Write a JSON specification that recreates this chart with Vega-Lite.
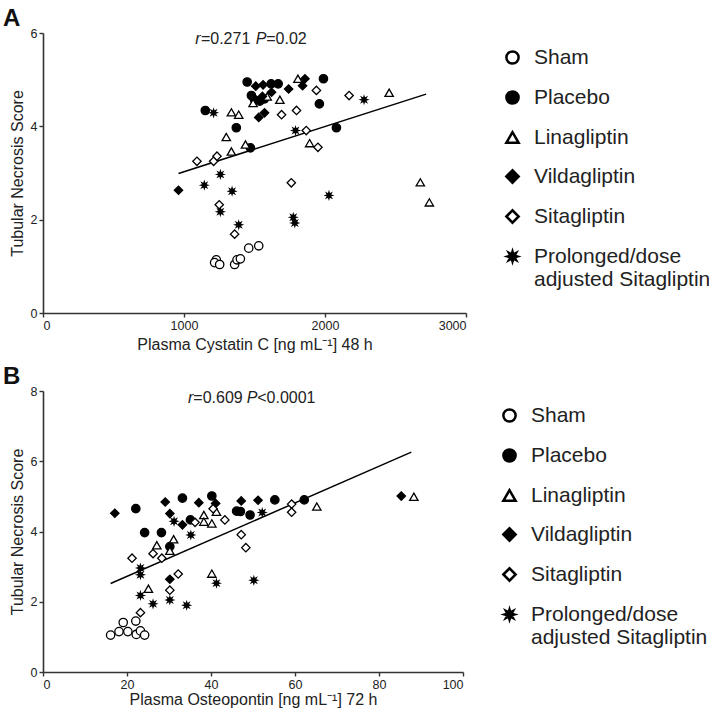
{
  "$schema": "https://vega.github.io/schema/vega-lite/v6.json",
  "padding": {"left": 3, "top": 7, "right": 0, "bottom": 0},
  "background": "white",
  "config": {
    "view": {"stroke": null},
    "font": "Liberation Sans",
    "axis": {"grid": false, "domainColor": "#333", "domainWidth": 1.6, "tickColor": "#333", "tickWidth": 1.4, "tickSize": 4, "labelFont": "Liberation Sans", "labelFontSize": 12.5, "labelColor": "#222", "labelPadding": 2, "titleFont": "Liberation Sans", "titleFontSize": 16, "titleFontWeight": "normal", "titleColor": "#222", "titlePadding": 5, "format": "d"},
    "legend": {"labelFont": "Liberation Sans", "labelFontSize": 21, "labelColor": "#222", "labelLimit": 400, "symbolSize": 150, "symbolStrokeWidth": 2.5, "symbolStrokeColor": "black", "rowPadding": 17, "labelOffset": 11, "offset": 22, "padding": 14, "orient": "right"},
    "title": {"anchor": "start", "frame": "bounds", "fontSize": 24, "fontWeight": "bold", "font": "Liberation Sans", "color": "#111", "dx": -6, "offset": -4}
  },
  "datasets": {
    "a_points": [
      {"group": "Sham", "x": 1229, "y": 1.14}, {"group": "Sham", "x": 1217, "y": 1.08}, {"group": "Sham", "x": 1253, "y": 1.04}, {"group": "Sham", "x": 1359, "y": 1.04}, {"group": "Sham", "x": 1376, "y": 1.14}, {"group": "Sham", "x": 1400, "y": 1.16}, {"group": "Sham", "x": 1459, "y": 1.39}, {"group": "Sham", "x": 1530, "y": 1.44},
      {"group": "Placebo", "x": 1448, "y": 4.95}, {"group": "Placebo", "x": 1618, "y": 4.91}, {"group": "Placebo", "x": 1668, "y": 4.91}, {"group": "Placebo", "x": 1989, "y": 5.02}, {"group": "Placebo", "x": 1151, "y": 4.34}, {"group": "Placebo", "x": 1371, "y": 3.97}, {"group": "Placebo", "x": 1471, "y": 3.54}, {"group": "Placebo", "x": 2081, "y": 3.97}, {"group": "Placebo", "x": 1960, "y": 4.48}, {"group": "Placebo", "x": 1478, "y": 4.66}, {"group": "Placebo", "x": 1500, "y": 4.57}, {"group": "Placebo", "x": 1537, "y": 4.54}, {"group": "Placebo", "x": 1571, "y": 4.59},
      {"group": "Linagliptin", "x": 1808, "y": 5.02}, {"group": "Linagliptin", "x": 1680, "y": 4.57}, {"group": "Linagliptin", "x": 1490, "y": 4.5}, {"group": "Linagliptin", "x": 1336, "y": 4.3}, {"group": "Linagliptin", "x": 1388, "y": 4.25}, {"group": "Linagliptin", "x": 1300, "y": 3.77}, {"group": "Linagliptin", "x": 1336, "y": 3.46}, {"group": "Linagliptin", "x": 1436, "y": 3.61}, {"group": "Linagliptin", "x": 1891, "y": 3.64}, {"group": "Linagliptin", "x": 1590, "y": 4.64}, {"group": "Linagliptin", "x": 2455, "y": 4.72}, {"group": "Linagliptin", "x": 2676, "y": 2.8}, {"group": "Linagliptin", "x": 2740, "y": 2.37},
      {"group": "Vildagliptin", "x": 1509, "y": 4.86}, {"group": "Vildagliptin", "x": 1561, "y": 4.89}, {"group": "Vildagliptin", "x": 1742, "y": 4.8}, {"group": "Vildagliptin", "x": 1841, "y": 4.87}, {"group": "Vildagliptin", "x": 1858, "y": 5.02}, {"group": "Vildagliptin", "x": 1530, "y": 4.19}, {"group": "Vildagliptin", "x": 1571, "y": 4.29}, {"group": "Vildagliptin", "x": 961, "y": 2.63}, {"group": "Vildagliptin", "x": 1621, "y": 4.73}, {"group": "Vildagliptin", "x": 1556, "y": 4.64},
      {"group": "Sitagliptin", "x": 1092, "y": 3.25}, {"group": "Sitagliptin", "x": 1210, "y": 3.25}, {"group": "Sitagliptin", "x": 1234, "y": 3.36}, {"group": "Sitagliptin", "x": 1692, "y": 4.25}, {"group": "Sitagliptin", "x": 1798, "y": 4.34}, {"group": "Sitagliptin", "x": 1867, "y": 3.91}, {"group": "Sitagliptin", "x": 1939, "y": 4.77}, {"group": "Sitagliptin", "x": 1950, "y": 3.55}, {"group": "Sitagliptin", "x": 2171, "y": 4.66}, {"group": "Sitagliptin", "x": 1761, "y": 2.79}, {"group": "Sitagliptin", "x": 1250, "y": 2.32}, {"group": "Sitagliptin", "x": 1359, "y": 1.69},
      {"group": "Prolonged/dose adjusted Sitagliptin", "x": 1210, "y": 4.29}, {"group": "Prolonged/dose adjusted Sitagliptin", "x": 1791, "y": 3.91}, {"group": "Prolonged/dose adjusted Sitagliptin", "x": 1258, "y": 2.97}, {"group": "Prolonged/dose adjusted Sitagliptin", "x": 1144, "y": 2.74}, {"group": "Prolonged/dose adjusted Sitagliptin", "x": 1341, "y": 2.61}, {"group": "Prolonged/dose adjusted Sitagliptin", "x": 1258, "y": 2.17}, {"group": "Prolonged/dose adjusted Sitagliptin", "x": 1388, "y": 1.89}, {"group": "Prolonged/dose adjusted Sitagliptin", "x": 1775, "y": 2.05}, {"group": "Prolonged/dose adjusted Sitagliptin", "x": 1786, "y": 1.93}, {"group": "Prolonged/dose adjusted Sitagliptin", "x": 2028, "y": 2.52}, {"group": "Prolonged/dose adjusted Sitagliptin", "x": 2277, "y": 4.57}
    ],
    "a_line": [{"x": 961, "y": 2.99}, {"x": 2717, "y": 4.69}],
    "a_text": [
      {"text": "r", "x": 1080, "y": 5.87, "italic": true},
      {"text": "=0.271", "x": 1120, "y": 5.87, "italic": false},
      {"text": "P", "x": 1508, "y": 5.87, "italic": true},
      {"text": "=0.02", "x": 1583, "y": 5.87, "italic": false}
    ],
    "b_points": [
      {"group": "Sham", "x": 16.1, "y": 1.05}, {"group": "Sham", "x": 18.1, "y": 1.15}, {"group": "Sham", "x": 19.1, "y": 1.41}, {"group": "Sham", "x": 20.2, "y": 1.15}, {"group": "Sham", "x": 22.1, "y": 1.45}, {"group": "Sham", "x": 22.2, "y": 1.07}, {"group": "Sham", "x": 23.2, "y": 1.17}, {"group": "Sham", "x": 24.2, "y": 1.05},
      {"group": "Placebo", "x": 22.1, "y": 4.65}, {"group": "Placebo", "x": 24.2, "y": 3.97}, {"group": "Placebo", "x": 28.2, "y": 3.97}, {"group": "Placebo", "x": 33.2, "y": 4.95}, {"group": "Placebo", "x": 35.1, "y": 4.33}, {"group": "Placebo", "x": 40.2, "y": 5.01}, {"group": "Placebo", "x": 46.1, "y": 4.58}, {"group": "Placebo", "x": 47.0, "y": 4.57}, {"group": "Placebo", "x": 49.3, "y": 4.47}, {"group": "Placebo", "x": 55.2, "y": 4.9}, {"group": "Placebo", "x": 62.2, "y": 4.9}, {"group": "Placebo", "x": 30.2, "y": 3.57},
      {"group": "Linagliptin", "x": 27.1, "y": 3.61}, {"group": "Linagliptin", "x": 31.1, "y": 3.78}, {"group": "Linagliptin", "x": 38.3, "y": 4.47}, {"group": "Linagliptin", "x": 38.3, "y": 4.28}, {"group": "Linagliptin", "x": 40.2, "y": 4.23}, {"group": "Linagliptin", "x": 41.3, "y": 4.56}, {"group": "Linagliptin", "x": 40.2, "y": 2.8}, {"group": "Linagliptin", "x": 25.1, "y": 2.37}, {"group": "Linagliptin", "x": 65.2, "y": 4.71}, {"group": "Linagliptin", "x": 30.2, "y": 3.45}, {"group": "Linagliptin", "x": 88.3, "y": 4.99},
      {"group": "Vildagliptin", "x": 17.1, "y": 4.52}, {"group": "Vildagliptin", "x": 29.1, "y": 4.84}, {"group": "Vildagliptin", "x": 30.2, "y": 4.51}, {"group": "Vildagliptin", "x": 33.2, "y": 4.19}, {"group": "Vildagliptin", "x": 37.1, "y": 4.82}, {"group": "Vildagliptin", "x": 41.1, "y": 4.8}, {"group": "Vildagliptin", "x": 47.2, "y": 4.87}, {"group": "Vildagliptin", "x": 51.2, "y": 4.89}, {"group": "Vildagliptin", "x": 85.3, "y": 5.01}, {"group": "Vildagliptin", "x": 30.2, "y": 2.64},
      {"group": "Sitagliptin", "x": 21.2, "y": 3.24}, {"group": "Sitagliptin", "x": 26.2, "y": 3.37}, {"group": "Sitagliptin", "x": 28.3, "y": 3.24}, {"group": "Sitagliptin", "x": 36.2, "y": 4.26}, {"group": "Sitagliptin", "x": 40.5, "y": 4.65}, {"group": "Sitagliptin", "x": 43.3, "y": 4.33}, {"group": "Sitagliptin", "x": 47.2, "y": 3.91}, {"group": "Sitagliptin", "x": 48.3, "y": 3.54}, {"group": "Sitagliptin", "x": 59.2, "y": 4.78}, {"group": "Sitagliptin", "x": 59.2, "y": 4.55}, {"group": "Sitagliptin", "x": 32.2, "y": 2.79}, {"group": "Sitagliptin", "x": 30.2, "y": 2.33}, {"group": "Sitagliptin", "x": 23.2, "y": 1.69},
      {"group": "Prolonged/dose adjusted Sitagliptin", "x": 23.2, "y": 2.96}, {"group": "Prolonged/dose adjusted Sitagliptin", "x": 23.2, "y": 2.77}, {"group": "Prolonged/dose adjusted Sitagliptin", "x": 23.2, "y": 2.18}, {"group": "Prolonged/dose adjusted Sitagliptin", "x": 26.2, "y": 1.94}, {"group": "Prolonged/dose adjusted Sitagliptin", "x": 30.2, "y": 2.05}, {"group": "Prolonged/dose adjusted Sitagliptin", "x": 34.2, "y": 1.9}, {"group": "Prolonged/dose adjusted Sitagliptin", "x": 35.2, "y": 3.9}, {"group": "Prolonged/dose adjusted Sitagliptin", "x": 31.2, "y": 4.29}, {"group": "Prolonged/dose adjusted Sitagliptin", "x": 41.3, "y": 2.53}, {"group": "Prolonged/dose adjusted Sitagliptin", "x": 50.2, "y": 2.61}, {"group": "Prolonged/dose adjusted Sitagliptin", "x": 52.2, "y": 4.54}
    ],
    "b_line": [{"x": 16.1, "y": 2.52}, {"x": 87.7, "y": 6.26}],
    "b_text": [
      {"text": "r", "x": 34.5, "y": 7.81, "italic": true},
      {"text": "=0.609", "x": 35.8, "y": 7.81, "italic": false},
      {"text": "P", "x": 48.5, "y": 7.81, "italic": true},
      {"text": "<0.0001", "x": 51.0, "y": 7.81, "italic": false}
    ]
  },
  "spacing": 12,
  "resolve": {"scale": {"x": "independent", "y": "independent", "shape": "independent", "fill": "independent", "stroke": "independent"}, "legend": {"shape": "independent", "fill": "independent", "stroke": "independent"}},
  "vconcat": [
    {
      "title": {"text": "A"},
      "width": 423,
      "height": 280,
      "encoding": {
        "x": {"field": "x", "type": "quantitative", "scale": {"domain": [0, 3000], "nice": false}, "axis": {"values": [0, 1000, 2000, 3000], "title": "Plasma Cystatin C [ng mL⁻¹] 48 h"}},
        "y": {"field": "y", "type": "quantitative", "scale": {"domain": [0, 6], "nice": false}, "axis": {"values": [0, 2, 4, 6], "title": "Tubular Necrosis Score"}}
      },
      "layer": [
        {"data": {"name": "a_line"}, "mark": {"type": "line", "color": "black", "strokeWidth": 1.5}, "encoding": {}},
        {
          "data": {"name": "a_points"},
          "mark": {"type": "point", "size": 70, "strokeWidth": 1.3, "opacity": 1, "fillOpacity": 1, "strokeOpacity": 1},
          "encoding": {
            "shape": {"field": "group", "type": "nominal", "scale": {"domain": ["Sham", "Placebo", "Linagliptin", "Vildagliptin", "Sitagliptin", "Prolonged/dose adjusted Sitagliptin"], "range": ["circle", "circle", "triangle-up", "diamond", "diamond", "M0,-0.8L0.14,-0.34L0.57,-0.57L0.34,-0.14L0.8,0L0.34,0.14L0.57,0.57L0.14,0.34L0,0.8L-0.14,0.34L-0.57,0.57L-0.34,0.14L-0.8,0L-0.34,-0.14L-0.57,-0.57L-0.14,-0.34Z"]}, "legend": {"title": null, "symbolStrokeWidth": 2.5, "labelExpr": "datum.label == 'Prolonged/dose adjusted Sitagliptin' ? ['Prolonged/dose', 'adjusted Sitagliptin'] : datum.label"}},
            "fill": {"field": "group", "type": "nominal", "scale": {"domain": ["Sham", "Placebo", "Linagliptin", "Vildagliptin", "Sitagliptin", "Prolonged/dose adjusted Sitagliptin"], "range": ["white", "black", "white", "black", "white", "black"]}, "legend": {"title": null, "symbolStrokeWidth": 2.5, "labelExpr": "datum.label == 'Prolonged/dose adjusted Sitagliptin' ? ['Prolonged/dose', 'adjusted Sitagliptin'] : datum.label"}},
            "stroke": {"field": "group", "type": "nominal", "scale": {"domain": ["Sham", "Placebo", "Linagliptin", "Vildagliptin", "Sitagliptin", "Prolonged/dose adjusted Sitagliptin"], "range": ["black", "black", "black", "black", "black", "black"]}, "legend": {"title": null, "symbolStrokeWidth": 2.5, "labelExpr": "datum.label == 'Prolonged/dose adjusted Sitagliptin' ? ['Prolonged/dose', 'adjusted Sitagliptin'] : datum.label"}}
          }
        },
        {"data": {"name": "a_text"}, "transform": [{"filter": "datum.italic"}], "mark": {"type": "text", "align": "left", "baseline": "middle", "fontSize": 16, "fontStyle": "italic", "color": "#222"}, "encoding": {"text": {"field": "text"}}},
        {"data": {"name": "a_text"}, "transform": [{"filter": "!datum.italic"}], "mark": {"type": "text", "align": "left", "baseline": "middle", "fontSize": 16, "color": "#222"}, "encoding": {"text": {"field": "text"}}}
      ]
    },
    {
      "title": {"text": "B"},
      "width": 420,
      "height": 281,
      "encoding": {
        "x": {"field": "x", "type": "quantitative", "scale": {"domain": [0, 100], "nice": false}, "axis": {"values": [0, 20, 40, 60, 80, 100], "title": "Plasma Osteopontin [ng mL⁻¹] 72 h", "titlePadding": 1}},
        "y": {"field": "y", "type": "quantitative", "scale": {"domain": [0, 8], "nice": false}, "axis": {"values": [0, 2, 4, 6, 8], "title": "Tubular Necrosis Score"}}
      },
      "layer": [
        {"data": {"name": "b_line"}, "mark": {"type": "line", "color": "black", "strokeWidth": 1.5}, "encoding": {}},
        {
          "data": {"name": "b_points"},
          "mark": {"type": "point", "size": 70, "strokeWidth": 1.3, "opacity": 1, "fillOpacity": 1, "strokeOpacity": 1},
          "encoding": {
            "shape": {"field": "group", "type": "nominal", "scale": {"domain": ["Sham", "Placebo", "Linagliptin", "Vildagliptin", "Sitagliptin", "Prolonged/dose adjusted Sitagliptin"], "range": ["circle", "circle", "triangle-up", "diamond", "diamond", "M0,-0.8L0.14,-0.34L0.57,-0.57L0.34,-0.14L0.8,0L0.34,0.14L0.57,0.57L0.14,0.34L0,0.8L-0.14,0.34L-0.57,0.57L-0.34,0.14L-0.8,0L-0.34,-0.14L-0.57,-0.57L-0.14,-0.34Z"]}, "legend": {"title": null, "symbolStrokeWidth": 2.5, "labelExpr": "datum.label == 'Prolonged/dose adjusted Sitagliptin' ? ['Prolonged/dose', 'adjusted Sitagliptin'] : datum.label"}},
            "fill": {"field": "group", "type": "nominal", "scale": {"domain": ["Sham", "Placebo", "Linagliptin", "Vildagliptin", "Sitagliptin", "Prolonged/dose adjusted Sitagliptin"], "range": ["white", "black", "white", "black", "white", "black"]}, "legend": {"title": null, "symbolStrokeWidth": 2.5, "labelExpr": "datum.label == 'Prolonged/dose adjusted Sitagliptin' ? ['Prolonged/dose', 'adjusted Sitagliptin'] : datum.label"}},
            "stroke": {"field": "group", "type": "nominal", "scale": {"domain": ["Sham", "Placebo", "Linagliptin", "Vildagliptin", "Sitagliptin", "Prolonged/dose adjusted Sitagliptin"], "range": ["black", "black", "black", "black", "black", "black"]}, "legend": {"title": null, "symbolStrokeWidth": 2.5, "labelExpr": "datum.label == 'Prolonged/dose adjusted Sitagliptin' ? ['Prolonged/dose', 'adjusted Sitagliptin'] : datum.label"}}
          }
        },
        {"data": {"name": "b_text"}, "transform": [{"filter": "datum.italic"}], "mark": {"type": "text", "align": "left", "baseline": "middle", "fontSize": 16, "fontStyle": "italic", "color": "#222"}, "encoding": {"text": {"field": "text"}}},
        {"data": {"name": "b_text"}, "transform": [{"filter": "!datum.italic"}], "mark": {"type": "text", "align": "left", "baseline": "middle", "fontSize": 16, "color": "#222"}, "encoding": {"text": {"field": "text"}}}
      ]
    }
  ]
}
